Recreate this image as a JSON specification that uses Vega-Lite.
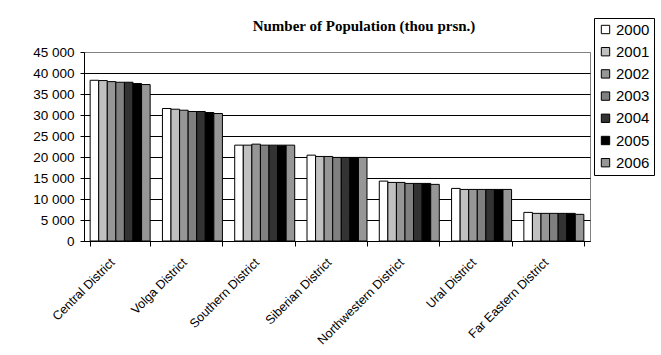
{
  "$schema": "https://vega.github.io/schema/vega-lite/v6.json",
  "width": 506,
  "height": 189,
  "autosize": {"type": "none"},
  "padding": {"left": 84, "top": 52, "right": 71, "bottom": 114},
  "background": "white",
  "title": {
    "text": "Number of Population (thou prsn.)",
    "font": "Liberation Serif",
    "fontSize": 15,
    "fontWeight": "bold",
    "color": "black",
    "anchor": "middle",
    "frame": "group",
    "dx": 27,
    "dy": 35,
    "offset": 19
  },
  "data": {
    "values": [
      {"district": "Central District", "year": "2000", "pop": 38270},
      {"district": "Central District", "year": "2001", "pop": 38200},
      {"district": "Central District", "year": "2002", "pop": 37950},
      {"district": "Central District", "year": "2003", "pop": 37800},
      {"district": "Central District", "year": "2004", "pop": 37800},
      {"district": "Central District", "year": "2005", "pop": 37490},
      {"district": "Central District", "year": "2006", "pop": 37250},
      {"district": "Volga District", "year": "2000", "pop": 31545},
      {"district": "Volga District", "year": "2001", "pop": 31380},
      {"district": "Volga District", "year": "2002", "pop": 31140},
      {"district": "Volga District", "year": "2003", "pop": 30830},
      {"district": "Volga District", "year": "2004", "pop": 30830},
      {"district": "Volga District", "year": "2005", "pop": 30590},
      {"district": "Volga District", "year": "2006", "pop": 30350},
      {"district": "Southern District", "year": "2000", "pop": 22820},
      {"district": "Southern District", "year": "2001", "pop": 22820},
      {"district": "Southern District", "year": "2002", "pop": 23060},
      {"district": "Southern District", "year": "2003", "pop": 22820},
      {"district": "Southern District", "year": "2004", "pop": 22820},
      {"district": "Southern District", "year": "2005", "pop": 22820},
      {"district": "Southern District", "year": "2006", "pop": 22820},
      {"district": "Siberian District", "year": "2000", "pop": 20440},
      {"district": "Siberian District", "year": "2001", "pop": 20130},
      {"district": "Siberian District", "year": "2002", "pop": 20130},
      {"district": "Siberian District", "year": "2003", "pop": 19900},
      {"district": "Siberian District", "year": "2004", "pop": 19900},
      {"district": "Siberian District", "year": "2005", "pop": 19900},
      {"district": "Siberian District", "year": "2006", "pop": 19900},
      {"district": "Northwestern District", "year": "2000", "pop": 14260},
      {"district": "Northwestern District", "year": "2001", "pop": 13950},
      {"district": "Northwestern District", "year": "2002", "pop": 13950},
      {"district": "Northwestern District", "year": "2003", "pop": 13710},
      {"district": "Northwestern District", "year": "2004", "pop": 13710},
      {"district": "Northwestern District", "year": "2005", "pop": 13710},
      {"district": "Northwestern District", "year": "2006", "pop": 13480},
      {"district": "Ural District", "year": "2000", "pop": 12520},
      {"district": "Ural District", "year": "2001", "pop": 12280},
      {"district": "Ural District", "year": "2002", "pop": 12280},
      {"district": "Ural District", "year": "2003", "pop": 12280},
      {"district": "Ural District", "year": "2004", "pop": 12280},
      {"district": "Ural District", "year": "2005", "pop": 12280},
      {"district": "Ural District", "year": "2006", "pop": 12280},
      {"district": "Far Eastern District", "year": "2000", "pop": 6810},
      {"district": "Far Eastern District", "year": "2001", "pop": 6580},
      {"district": "Far Eastern District", "year": "2002", "pop": 6580},
      {"district": "Far Eastern District", "year": "2003", "pop": 6580},
      {"district": "Far Eastern District", "year": "2004", "pop": 6580},
      {"district": "Far Eastern District", "year": "2005", "pop": 6580},
      {"district": "Far Eastern District", "year": "2006", "pop": 6350}
    ]
  },
  "mark": {"type": "bar", "stroke": "black", "strokeWidth": 1},
  "encoding": {
    "x": {
      "field": "district",
      "type": "nominal",
      "sort": null,
      "scale": {"paddingInner": 0.17, "paddingOuter": 0.085},
      "axis": {
        "title": null,
        "labelAngle": -45,
        "labelAlign": "right",
        "labelBaseline": "middle",
        "labelFont": "Liberation Sans",
        "labelFontSize": 12.5,
        "labelColor": "black",
        "labelOffset": -8,
        "labelPadding": 14,
        "tickBand": "extent",
        "tickColor": "black",
        "tickSize": 5,
        "domainColor": "black",
        "grid": false
      }
    },
    "xOffset": {"field": "year", "type": "nominal", "scale": {"paddingInner": 0, "paddingOuter": 0}},
    "y": {
      "field": "pop",
      "type": "quantitative",
      "scale": {"domain": [0, 45000], "nice": false},
      "axis": {
        "title": null,
        "values": [0, 5000, 10000, 15000, 20000, 25000, 30000, 35000, 40000, 45000],
        "labelExpr": "replace(format(datum.value, ',d'), ',', ' ')",
        "labelFont": "Liberation Sans",
        "labelFontSize": 13.5,
        "labelColor": "black",
        "labelPadding": 6,
        "tickSize": 4,
        "tickColor": "black",
        "domainColor": "black",
        "grid": true,
        "gridColor": {"condition": {"test": "datum.value === 45000", "value": "#808080"}, "value": "black"},
        "gridOpacity": 1
      }
    },
    "color": {
      "field": "year",
      "type": "nominal",
      "scale": {
        "domain": ["2000", "2001", "2002", "2003", "2004", "2005", "2006"],
        "range": ["#ffffff", "#c0c0c0", "#969696", "#808080", "#333333", "#000000", "#969696"]
      },
      "legend": {
        "title": null,
        "orient": "none",
        "legendX": 510,
        "legendY": -34,
        "fillColor": "white",
        "strokeColor": "black",
        "padding": 4,
        "symbolType": "square",
        "symbolSize": 70,
        "symbolStrokeColor": "black",
        "symbolStrokeWidth": 1,
        "symbolOpacity": 1,
        "labelFont": "Liberation Sans",
        "labelFontSize": 15,
        "labelColor": "black",
        "labelOffset": 3,
        "rowPadding": 6.2
      }
    }
  },
  "config": {
    "view": {"stroke": "#808080", "strokeWidth": 1},
    "axis": {"domainWidth": 1, "tickWidth": 1, "gridWidth": 1}
  }
}
